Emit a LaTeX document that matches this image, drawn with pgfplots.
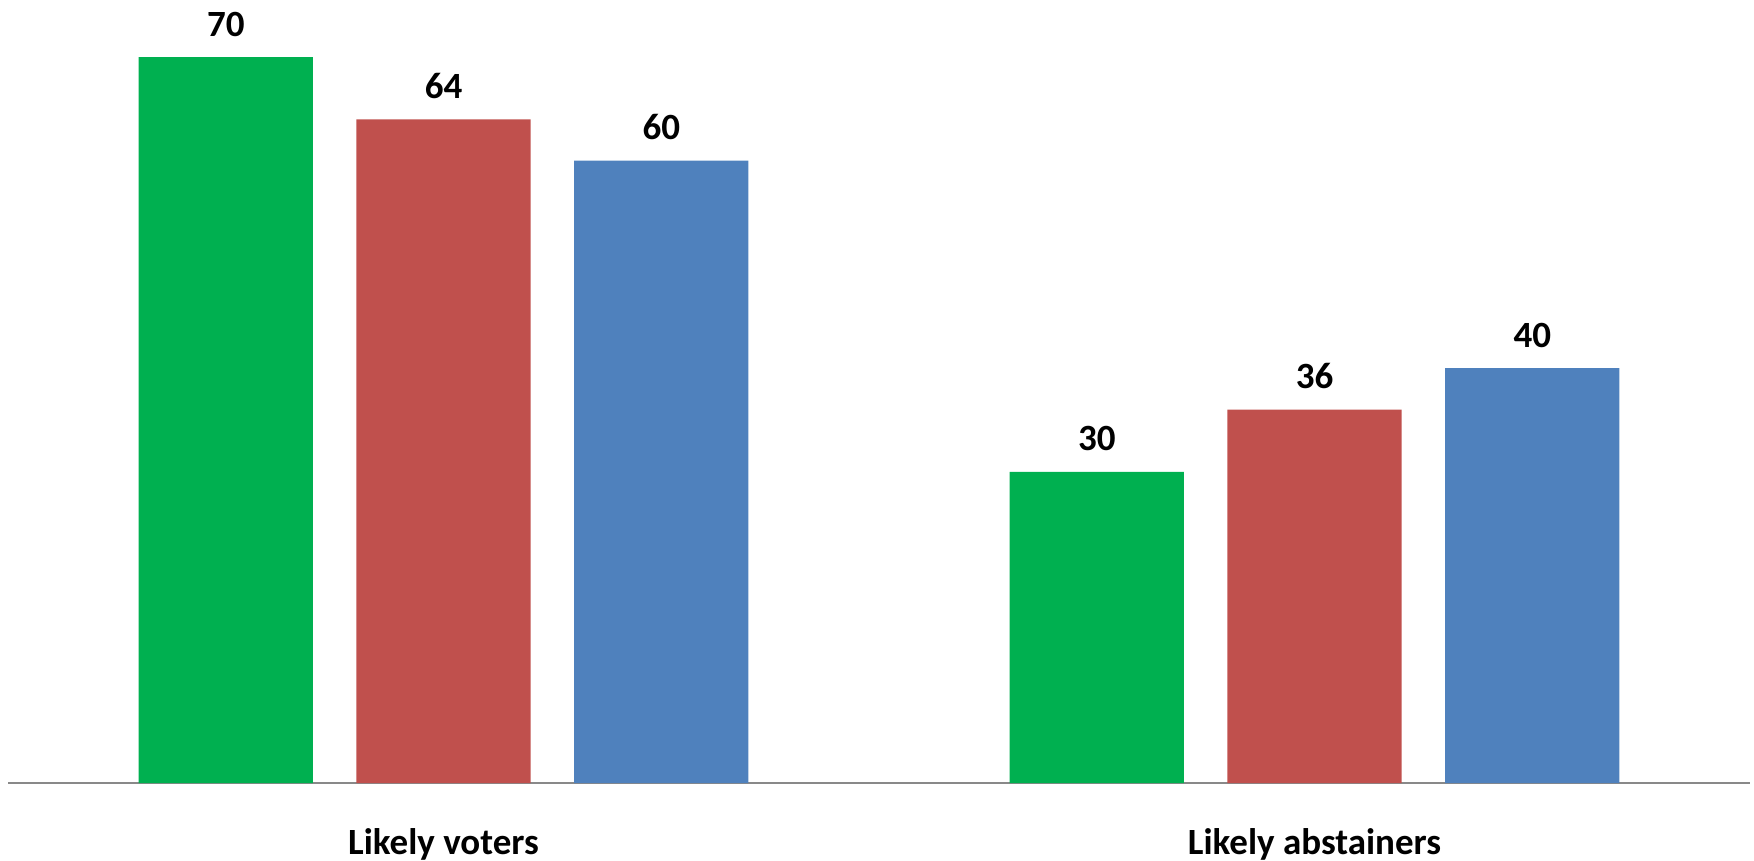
\documentclass[border=0pt]{standalone}
\usepackage{pgfplots}
\pgfplotsset{compat=1.18}
\usepackage{fontspec}
\setmainfont{Carlito}
\definecolor{cgreen}{RGB}{0,176,80}
\definecolor{cred}{RGB}{192,80,77}
\definecolor{cblue}{RGB}{79,129,189}
\definecolor{caxis}{RGB}{137,137,137}
\begin{document}
\begin{tikzpicture}
\begin{axis}[
  at={(0,0)}, anchor=south west,
  scale only axis,
  width=871bp, height=391.5bp,
  xmin=-0.5, xmax=1.5, ymin=0, ymax=75.5,
  hide y axis,
  axis x line*=bottom,
  x axis line style={-, draw=caxis, line width=1bp},
  xtick={0,1},
  xticklabels={Likely voters, Likely abstainers},
  xtick style={draw=none},
  xticklabel style={anchor=base, yshift=-31.5bp, inner sep=0pt,
    font=\fontsize{18.5bp}{22bp}\selectfont\bfseries},
  /pgf/number format/assume math mode=true,
  ybar, bar width=0.2,
  nodes near coords,
  nodes near coords style={anchor=base, yshift=10.5bp, inner sep=0pt,
    font=\fontsize{18.5bp}{22bp}\selectfont\bfseries, text=black},
  clip=false,
]
\addplot[ybar, bar shift=0pt, fill=cgreen, draw=none] coordinates {(-0.25,70) (0.75,30)};
\addplot[ybar, bar shift=0pt, fill=cred, draw=none] coordinates {(0,64) (1,36)};
\addplot[ybar, bar shift=0pt, fill=cblue, draw=none] coordinates {(0.25,60) (1.25,40)};
\end{axis}
\pgfresetboundingbox
\path (-4bp,-39bp) rectangle (873bp,391.5bp);
\end{tikzpicture}
\end{document}
